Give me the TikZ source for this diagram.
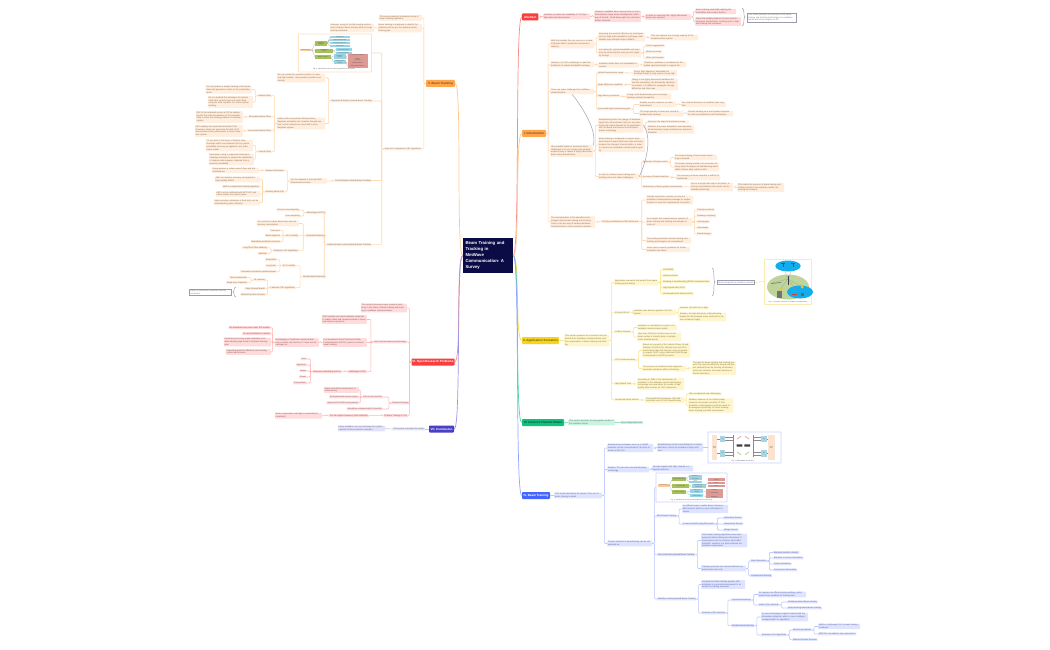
\documentclass[tikz,border=0pt]{standalone}
\usepackage{fontspec}
\setmainfont{Liberation Sans}
\usetikzlibrary{calc}
\definecolor{oF}{HTML}{FFEDDD}\definecolor{oL}{HTML}{FFD8AE}\definecolor{oT}{HTML}{8A6D52}
\definecolor{rF}{HTML}{FFDBDB}\definecolor{rL}{HTML}{FFB4B4}\definecolor{rT}{HTML}{8E5656}
\definecolor{yF}{HTML}{FFF5CC}\definecolor{yL}{HTML}{FBE48C}\definecolor{yT}{HTML}{857642}
\definecolor{gF}{HTML}{CBF3E2}\definecolor{gL}{HTML}{8FE3C0}\definecolor{gT}{HTML}{458068}
\definecolor{bF}{HTML}{DEE3FF}\definecolor{bL}{HTML}{BBC6FF}\definecolor{bT}{HTML}{5A6598}
\definecolor{pF}{HTML}{E3E3F8}\definecolor{pL}{HTML}{C5C4EE}\definecolor{pT}{HTML}{656494}
\definecolor{anno}{HTML}{9B9BAE}
\definecolor{cRoot}{HTML}{0B0B45}\definecolor{cRed}{HTML}{F93E3E}\definecolor{cOr}{HTML}{FFA64D}\definecolor{cOrT}{HTML}{7A4A12}
\definecolor{cYe}{HTML}{F7D21E}\definecolor{cYeT}{HTML}{6B5A00}\definecolor{cGr}{HTML}{0CC27C}\definecolor{cGrT}{HTML}{064D33}
\definecolor{cBl}{HTML}{4565FF}\definecolor{cPu}{HTML}{4A3FC4}
\definecolor{mPeach}{HTML}{FBE3D0}\definecolor{mRF}{HTML}{A9D4E4}\definecolor{mOr}{HTML}{F9C9A0}\definecolor{mGreen}{HTML}{A5C25A}
\definecolor{mCyan}{HTML}{9AD3E3}\definecolor{mRed}{HTML}{DD9A94}\definecolor{cSky}{HTML}{10AEEF}\definecolor{cLand}{HTML}{BFD49A}
\definecolor{cSun}{HTML}{F7C31E}\definecolor{cBrick}{HTML}{C8403A}\definecolor{cPink}{HTML}{E3AFA8}\definecolor{cLeaf}{HTML}{BBD3A5}
\tikzset{
  mbox/.style={rectangle,rounded corners=.7pt,draw=none,inner xsep=.9pt,inner ysep=.5pt,align=left,font=\fontsize{2.1}{2.85}\selectfont},
  ob/.style={mbox,fill=oF,text=oT}, rb/.style={mbox,fill=rF,text=rT},
  yb/.style={mbox,fill=yF,text=yT}, gb/.style={mbox,fill=gF,text=gT},
  bb/.style={mbox,fill=bF,text=bT}, pb/.style={mbox,fill=pF,text=pT},
  mainbox/.style={rectangle,rounded corners=.8pt,inner sep=0pt,minimum height=7pt,font=\fontsize{3}{3.6}\selectfont\bfseries},
  oc/.style={draw=oL,line width=.55pt,rounded corners=1pt},
  rc/.style={draw=rL,line width=.55pt,rounded corners=1pt},
  yc/.style={draw=yL,line width=.55pt,rounded corners=1pt},
  gc/.style={draw=gL,line width=.55pt,rounded corners=1pt},
  bc/.style={draw=bL,line width=.55pt,rounded corners=1pt},
  pc/.style={draw=pL,line width=.55pt,rounded corners=1pt},
  annoline/.style={draw=anno,line width=.45pt},
  annobox/.style={rectangle,draw=anno,line width=.6pt,fill=white,inner xsep=1pt,inner ysep=.8pt,align=left,text=anno!80!black,font=\fontsize{2.1}{2.85}\selectfont},
  figframe/.style={draw=#1,line width=.8pt,fill=white,rounded corners=.5pt},
  minitxt/.style={inner sep=0pt,align=center,font=\fontsize{1.2}{1.4}\selectfont,text=black!75},
  caption/.style={inner sep=0pt,font=\fontsize{1.5}{1.8}\selectfont,text=black!70},
}
% right-growing node: left edge x, centre y, width
\newcommand{\nR}[6]{\node[#2,anchor=west,text width=#5pt-1.8pt] (#1) at (#3,#4) {#6};}
\newcommand{\sR}[5]{\node[#2,anchor=west] (#1) at (#3,#4) {#5};}
% left-growing node: right edge x, centre y, width
\newcommand{\nL}[6]{\node[#2,anchor=east,text width=#5pt-1.8pt] (#1) at (#3,#4) {#6};}
\newcommand{\sL}[5]{\node[#2,anchor=east] (#1) at (#3,#4) {#5};}
\newcommand{\cR}[3]{\foreach \kid in {#3} {\draw[#1] (#2.east) -- ++(2,0) |- (\kid.west);}}
\newcommand{\cL}[3]{\foreach \kid in {#3} {\draw[#1] (#2.west) -- ++(-2,0) |- (\kid.east);}}
\newcount\mk
\newcommand{\mini}[6]{\global\advance\mk by 1 \fill[#1] (#2,#3) rectangle (#4,#5); \node[minitxt] (mk\the\mk) at ($(#2,#3)!.5!(#4,#5)$) {#6};}
\begin{document}
\begin{tikzpicture}[x=1pt,y=-1pt]
\useasboundingbox (0,0) rectangle (1050,650);
\fill[white] (0,0) rectangle (1050,650);

% ---------- root and main branches
\node[rectangle,fill=cRoot,text=white,inner sep=0pt,minimum width=50pt,minimum height=35pt,text width=45pt,align=left,font=\fontsize{4.3}{6}\selectfont\bfseries] (root) at (488,255.5) {Beam Training and\\Tracking in\\MmWave\\Communication- A\\Survey};
\node[mainbox,fill=cRed,text=white,minimum width=16.5pt] (abs) at (530.2,17) {Abstract};
\node[mainbox,fill=cOr,text=cOrT,minimum width=24pt] (intro) at (534,133.5) {I. Introduction};
\node[mainbox,fill=cYe,text=cYeT,minimum width=37pt] (app) at (540.5,340.5) {II. Application Scenarios};
\node[mainbox,fill=cGr,text=cGrT,minimum width=42pt] (chan) at (543,422.5) {III. Incident Channel Model};
\node[mainbox,fill=cBl,text=white,minimum width=28pt] (bt) at (536,495.5) {IV. Beam Training};
\node[mainbox,fill=cOr,text=cOrT,minimum width=29pt] (track) at (440.5,83.5) {V. Beam Tracking};
\node[mainbox,fill=cRed,text=white,minimum width=43pt] (open) at (433,362) {VI. Open Research Problems};
\node[mainbox,fill=cPu,text=white,minimum width=25pt] (conc) at (441.5,429) {VII. Conclusion};
\foreach \m/\c in {abs/F98A8A,intro/FFC88F,app/F7DC55,chan/4FD6A3,bt/93A6FF}
  {\definecolor{tmpc}{HTML}{\c}\draw[tmpc,line width=.7pt] (root.east) .. controls +(7,0) and +(-7,0) .. (\m.west);}
\foreach \m/\c in {track/FFC88F,open/F98A8A,conc/9E98E4}
  {\definecolor{tmpc}{HTML}{\c}\draw[tmpc,line width=.7pt] (root.west) .. controls +(-7,0) and +(7,0) .. (\m.east);}

% ---------- Abstract
\nR{a1}{rb}{543}{16.5}{47}{mmWave provides the availability of 10 Gbps high data rate transmission.}
\nR{a2}{rb}{594}{16.5}{47}{However, mmWave have serious issue of short transmission range, beam misalignment, blockage of the link. Small beam path loss and intermittent channels.}
\nR{a3}{rb}{645}{17}{46}{In order to overcome this, highly directional beams are required.}
\nR{a4}{rb}{695}{11.5}{41}{Beam training essentially aligning the transmitter and receiver beams.}
\nR{a5}{rb}{695}{21.5}{46}{Given the mobility patterns of users and environment and dynamic, tracking cycle is high and training has overhead.}
\cR{rc}{abs}{a1}\cR{rc}{a1}{a2}\cR{rc}{a2}{a3}\cR{rc}{a3}{a4,a5}
\node[annobox,anchor=west,text width=47pt] (an1) at (747,17.5) {This article provides an overview of the beam training and tracking technologies on mmWave bands and future insights on 6G};
\coordinate (br1a) at (742,8);\coordinate (br1m) at (745,17);\coordinate (br1b) at (742,26);
\draw[annoline] (br1a) .. controls (745,8) and (743,17) .. (br1m) .. controls (743,17) and (745,26) .. (br1b);

% ---------- I. Introduction
\nR{i1}{ob}{550}{44}{44}{With the broaden the use, we are in a need of greater data to maximize transmission capacity.}
\nR{i2}{ob}{550}{64.5}{44}{However, it is still a challenge to meet the bottleneck of cellular bandwidth shortage.}
\nR{i3}{ob}{550}{91.5}{44}{There are some challenges for mmWave communication:}
\nR{i4}{ob}{550}{151}{43}{One possible option to overcome these challenges is to use a large-scale phased antenna array to realize a highly directional beam using beamforming.}
\nR{i5}{ob}{550}{222}{45}{The summarization of the beamform technologies about beam training and tracking. There is the mix way of dealing mmWave communication in future wireless networks.}
\cR{oc}{intro}{i1,i2,i3,i4,i5}
\nR{i11}{ob}{598}{37}{47}{Improving the spectral efficiency by techniques such as high-order modulation and large-scale Multiple-Input Multiple-Output (MIMO)}
\nR{i111}{ob}{650}{37.5}{48}{This can improve the carrying capacity of the communication system}
\nR{i12}{ob}{598}{53}{43}{Increasing the system bandwidth and spectrum by enhancing the area per-unit capacity through}
\sR{i121}{ob}{645}{46}{Carrier aggregation}
\sR{i122}{ob}{645}{52}{Multi-connection}
\sR{i123}{ob}{645}{58}{Other technologies}
\cR{oc}{i1}{i11,i12}\cR{oc}{i11}{i111}\cR{oc}{i12}{i121,i122,i123}
\nR{i21}{ob}{598}{65}{41}{mmWave bands have rich bandwidth resources}
\nR{i22}{ob}{643}{64.5}{43}{Therefore, mmWave is considered as the golden spectrum bands to support 6G.}
\cR{oc}{i2}{i21}\cR{oc}{i21}{i22}
\sR{i31}{ob}{597}{73}{Limited transmission range}
\nR{i311}{ob}{633}{73}{44}{Due to high frequency, attenuation of mmWave bands is very severe in very high}
\sR{i32}{ob}{597}{85}{Weak diffraction capability}
\nR{i321}{ob}{631}{84.5}{47}{Owing to the highly directional mmWave link and the sensitivity to be blocked by obstacles or humans, it is difficult to propagate through diffraction and other way.}
\sR{i33}{ob}{597}{96}{High latency overhead}
\nR{i331}{ob}{626}{96.5}{45}{A large scale beamforming can encourage training overhead complexity}
\sR{i34}{ob}{597}{109}{Associated high beamforming gain}
\nR{i341}{ob}{639}{104.5}{37}{Mobility and the variations of radio environment}
\nR{i3411}{ob}{681}{104.5}{45}{the channel directions of mmWave also vary fast}
\nR{i342}{ob}{639}{113.5}{44}{The large quantity of users are served simultaneously systems}
\nR{i3421}{ob}{687}{113.5}{46}{Causes tracking error and system response for real accomplishment and interference}
\cR{oc}{i3}{i31,i32,i33,i34}\cR{oc}{i31}{i311}\cR{oc}{i32}{i321}\cR{oc}{i33}{i331}\cR{oc}{i34}{i341,i342}\cR{oc}{i341}{i3411}\cR{oc}{i342}{i3421}
\nR{i41}{ob}{598}{125.5}{45}{Beamforming forms the energy of mmWave signal into narrow beams that can use directional high signal directed by the application with the beam and improve overall performance technology}
\nR{i411}{ob}{647}{122}{42}{Improves the signal transmission range}
\nR{i412}{ob}{647}{129.5}{47}{Reduces the power dissipation and improving all transmission range and improves spectrum utilization}
\nR{i42}{ob}{598}{145}{47}{Beam training is employed to acquire directional links for beam links from radio and maintenance the strongest channel paths, in order to connect an acceptable communication quality.}
\nR{i43}{ob}{598}{176.5}{41}{In order to achieve beam training and tracking, there are some challenges:}
\cR{oc}{i4}{i41,i42,i43}\cR{oc}{i41}{i411,i412}
\sR{i431}{ob}{642}{162}{Reduction of beam search}
\nR{i4311}{ob}{674}{157.5}{43}{The beam training of such beam search huge overhead}
\nR{i4312}{ob}{674}{167}{45}{The beam training results in an excessive latency when the degree of beamforming bandwidth of beam high mobile results}
\sR{i432}{ob}{642}{177}{Accuracy of beam selection}
\nR{i4321}{ob}{676}{177.5}{44}{The accuracy of beam selection is difficult of maintained}
\sR{i433}{ob}{642}{187}{Robustness of beam quality enhancement}
\nR{i4331}{ob}{690}{187}{43}{Due to the high data rate in the future, in strong communication link need to be established effectively}
\nR{i4332}{ob}{737}{187.5}{47}{This makes the process of beam training and tracking crucial in the mmWave mobile networking and industry}
\cR{oc}{i43}{i431,i432,i433}\cR{oc}{i431}{i4311,i4312}\cR{oc}{i432}{i4321}\cR{oc}{i433}{i4331}\cR{oc}{i4331}{i4332}
\sR{i51}{ob}{601}{221.5}{The key contributions of this article are:}
\nR{i511}{ob}{646}{200}{47}{Provide systematic overview on how the mmWave communications leverage its unique features to meet the requirements of services.}
\nR{i512}{ob}{646}{222}{46}{An in-depth and comprehensive analysis of beam training and tracking technologies in terms of:}
\nR{i513}{ob}{646}{240.5}{45}{The existing methods of beam training and tracking technologies are summarized.}
\nR{i514}{ob}{646}{249.5}{44}{Some open research problems for further evaluation are listed.}
\sR{i5121}{ob}{696}{210}{Training overhead}
\sR{i5122}{ob}{696}{216}{Tracking complexity}
\sR{i5123}{ob}{696}{222}{Training gain}
\sR{i5124}{ob}{696}{228}{Advantages}
\sR{i5125}{ob}{696}{234}{Disadvantages}
\cR{oc}{i5}{i51}\cR{oc}{i51}{i511,i512,i513,i514}\cR{oc}{i512}{i5121,i5122,i5123,i5124,i5125}
\draw[annoline] (i3.south) .. controls +(8,10) and +(4,-16) .. (i4.north east);
\draw[annoline] (i41.east) .. controls +(7,8) and +(10,-22) .. (i43.east);

% ---------- II. Application Scenarios
\nR{p0}{yb}{564}{340.5}{45}{This section presents the scenarios that can benefit from mmWave communications and the requirements of beam training and tracking.}
\draw[yc] (app.east) -- (p0.west);
\nR{p1}{yb}{614}{282.5}{44}{Application scenarios that benefit from beam tracking and tracking:}
\sR{p2}{yb}{614}{312.7}{5G and URLLC}
\sR{p3}{yb}{614}{332}{Cellular Network}
\sR{p4}{yb}{614}{360}{V2X Communications}
\sR{p5}{yb}{614}{383.7}{High Speed Train}
\sR{p6}{yb}{614}{399.7}{Unmanned Aerial Vehicle}
\cR{yc}{p0}{p1,p2,p3,p4,p5,p6}
\sR{p11}{yb}{662}{269.7}{VR/AR/MR}
\sR{p12}{yb}{662}{275.7}{Vehicle network}
\sR{p13}{yb}{662}{281.7}{Relaying or beamforming (RFMS) communication}
\sR{p14}{yb}{662}{287.7}{High-Speed train (HST)}
\sR{p15}{yb}{662}{293.7}{Unmanned Aerial Vehicle (UAV)}
\cR{yc}{p1}{p11,p12,p13,p14,p15}
\coordinate (br2a) at (712,268);\coordinate (br2m) at (715,282);\coordinate (br2b) at (712,296);
\draw[annoline] (br2a) .. controls (715,268) and (713,282) .. (br2m) .. controls (713,282) and (715,296) .. (br2b);
\node[annobox,anchor=west] (an2) at (717,282.5) {Beam integration in mmWave network};
\node[inner sep=0pt,minimum width=47pt,minimum height=45pt,draw=yL!70,line width=.8pt,fill=white] (fig1) at (788,281.5) {};
\draw[yc] (an2.east) -- (fig1.west);
\fill[cSky] (788,266) ellipse [x radius=12.7pt,y radius=5.5pt];
\fill[cLand] (788,287) ellipse [x radius=21pt,y radius=12.5pt];
\fill[cSky] (800,292) ellipse [x radius=13pt,y radius=6.5pt];
\draw[black!70,line width=.25pt] (783,263)--(783,267) (793,263)--(793,267) (781,263)--(785,263) (791,263)--(795,263);
\draw[black!40,line width=.15pt] (783,267)--(788,279) (793,267)--(788,279) (788,279)--(772,283) (788,279)--(779,291) (788,279)--(802,287) (788,279)--(797,292);
\draw[black!75,line width=.5pt] (788,276)--(788,285);
\draw[black!60,line width=.5pt] (771,283.5)--(781,282.5);
\fill[black!55] (777,291) rectangle (782,298);
\fill[cSun] (781,289) circle (1.5pt) (802,287) circle (1.5pt);
\fill[cBrick] (792,294) rectangle (797,295);
\fill[black!60] (801,293) rectangle (804,296);
\node[caption] (fig1c) at (788,302) {Fig. 1. The typical scenarios of mmWave communications.};
\nR{p21}{yb}{633}{312.5}{43}{mmWave was directly applied in 5G NR system}
\sR{p211}{yb}{679}{308}{However, the path loss is high}
\nR{p212}{yb}{679}{317}{47}{Besides, the high directivity of beamforming makes the link between users small-cell or device extremely fragile}
\cR{yc}{p2}{p21}\cR{yc}{p21}{p211,p212}
\nR{p31}{yb}{637}{327.5}{40}{mmWave is committed to access to acceptable communication quality}
\nR{p32}{yb}{637}{337}{44}{Take from DFW (for 30GHz) seen at the beam center to transmit data to multiple users simultaneously.}
\cR{yc}{p3}{p31,p32}
\nR{p41}{yb}{642}{350.5}{48}{Based on research of the Vehicle Phase 16 and Release 16 (NR-V2X), Vehicles can use 5G-V needs faster than the General, some proposed to support 3GPP using Dedicated Short-Range Communication (DSRC) protocol}
\nR{p42}{yb}{642}{368.5}{44}{The process of mmWave beam alignment procedure enhances effect of tracking}
\nR{p421}{yb}{692}{368}{44}{Through the beam training and tracking process, the spectral efficiency among vehicles are obtained from the sensing information, which can enhance the beam steering on the link directions}
\cR{yc}{p4}{p41,p42}\cR{yc}{p42}{p421}
\nR{p51}{yb}{637}{384}{47}{According to Table 2 the transmission of mmWave at the millimeter band beamforming technology are used about the needs of high quality data services on HST commuters.}
\cR{yc}{p5}{p51}
\nR{p61}{yb}{645}{400}{39}{The beamforming between UAV and terrestrial users in UAV beamforming}
\sR{p611}{yb}{688}{394}{Ultra complicated and challenging}
\nR{p612}{yb}{688}{405.5}{45}{Besides, because of the limited power resource, the power constraint of UAV mmWave communication systems needs to be designed specifically for beam training, beam tracking and data transmission.}
\cR{yc}{p6}{p61}\cR{yc}{p61}{p611,p612}

% ---------- III. Incident Channel Model
\nR{c1}{gb}{568}{422.5}{47}{This section provides the propagation model of the mmWave signal.}
\sR{c2}{gb}{620}{422.5}{Line of dependent loss}
\draw[gc] (chan.east) -- (c1.west);\draw[gc] (c1.east) -- (c2.west);

% ---------- IV. Beam Training
\nR{b0}{bb}{554}{495.5}{48}{This section describes the whole of the use of beam training in detail.}
\draw[bc] (bt.east) -- (b0.west);
\nR{b1}{bb}{607}{448}{46}{Beamforming techniques such as in MIMO networks can be concentrated in the form of beams at the CSI}
\nR{b2}{bb}{607}{469.5}{42}{Besides, CSI can also use beamforming technology}
\nR{b3}{bb}{607}{543.5}{45}{Current methods of beamforming can be categorized as:}
\cR{bc}{b0}{b1,b2,b3}
\nR{b11}{bb}{657}{447.5}{46}{Beamforming can be concentrated in a certain direction to solve the problem of large path loss.}
\nR{b21}{bb}{652}{468.5}{41}{Receive signals with high strength in a specific direction}
\cR{bc}{b1}{b11}\cR{bc}{b2}{b21}
\node[figframe=bL!75,inner sep=0pt,minimum width=73pt,minimum height=31pt] (fig2) at (744.5,447.5) {};
\draw[bc] (b11.east) -- (fig2.west);
\begin{scope}[shift={(515,430)},x=.33333pt,y=-.33333pt]
\mini{mPeach}{590}{16}{607}{90}{Base\\band}
\mini{mPeach}{759}{16}{779}{90}{Base\\band}
\mini{mRF}{615}{18}{630}{36}{RF}
\mini{mRF}{615}{60}{630}{80}{RF}
\mini{mRF}{739}{18}{755}{36}{RF}
\mini{mRF}{739}{60}{755}{80}{RF}
\fill[black!75] (665,43) rectangle (682,50) (688,43) rectangle (705,50);
\draw[cPink,line width=.9pt] (666,27)--(678,19) (690,19)--(702,27);
\draw[cLeaf,line width=.9pt] (666,66)--(678,74) (690,74)--(702,66);
\draw[black!45,line width=.15pt] (607,27)--(615,27) (607,70)--(615,70) (630,22)--(655,22) (630,30)--(655,30) (630,65)--(655,65) (630,75)--(655,75) (715,22)--(739,22) (715,30)--(739,30) (715,65)--(739,65) (715,75)--(739,75) (755,27)--(759,27) (755,70)--(759,70) (655,15)--(655,80) (715,15)--(715,80);
\node[caption] (fig2c) at (683,92) {Fig. 2. Hybrid MIMO architecture};
\end{scope}
% blind etc.
\node[figframe=bL!75,inner sep=0pt,minimum width=71pt,minimum height=29pt] (fig4) at (691.5,487.5) {};
\begin{scope}[shift={(515,430)},x=.33333pt,y=-.33333pt]
\mini{mOr}{430}{162}{462}{170}{Beam Training}
\mini{mGreen}{472}{141}{514}{153}{Blind Beam Training}
\mini{mGreen}{472}{162}{522}{174}{Prior Information}
\mini{mGreen}{472}{181}{514}{191}{Machine Learning}
\mini{mCyan}{522}{135}{560}{143}{Exhaustive}
\mini{mCyan}{522}{145}{560}{151}{Hierarchical}
\mini{mCyan}{522}{152}{560}{158}{Ortega}
\mini{mCyan}{530}{161}{572}{168}{Side information}
\mini{mCyan}{530}{169}{572}{175}{Compressed}
\mini{mCyan}{526}{177}{565}{190}{Supervised\\Learning}
\mini{mCyan}{526}{193}{565}{201}{Reinforcement}
\mini{mRed}{579}{144}{629}{154}{Location}
\mini{mRed}{579}{155}{629}{163}{Sensor}
\mini{mRed}{579}{164}{629}{172}{Radar}
\mini{mRed}{574}{177}{623}{186}{Database}
\mini{mRed}{574}{187}{623}{195}{Deep learning}
\mini{mRed}{574}{196}{623}{205}{MAB / MDP}
\draw[black!40,line width=.15pt] (462,166)--(472,147) (462,166)--(472,168) (462,166)--(472,186) (514,147)--(522,139) (514,147)--(522,155) (522,168)--(530,165) (522,168)--(530,172) (514,186)--(526,183) (514,186)--(526,197) (572,165)--(579,158) (565,183)--(574,187) (565,197)--(574,200);
\node[caption] (fig4c) at (530,211) {Fig. 4. Classification of beam training algorithms in this survey};
\end{scope}
\sR{b31}{bb}{656}{516}{Blind Beam Training}
\nR{b311}{bb}{682}{509}{46}{An efficient way to realize beam training is blind search, where no prior information is known}
\sR{b312}{bb}{682}{524}{It uses methods using full search:}
\sR{b3121}{bb}{723}{518}{Exhaustive Search}
\sR{b3122}{bb}{723}{524}{Hierarchical Search}
\sR{b3123}{bb}{723}{530}{Ortega Search}
\sR{b32}{bb}{657}{554.7}{Prior Information Based Beam Training}
\nR{b321}{bb}{701}{540.5}{46}{Such beam training algorithms have been proposed which utilize prior information of environment such as location, data traffic, AoA/AoD, statistics to a priori estimate the mmWave environment}
\nR{b322}{bb}{701}{568.5}{45}{Training overhead can reduced without any performance test only}
\sR{b3221}{bb}{750}{561}{Side information}
\sR{b3222}{bb}{750}{575.7}{Compressed Sensing}
\sR{b32211}{bb}{773}{552.5}{Behavior position, velocity}
\sR{b32212}{bb}{773}{558}{Behavior or sensor information}
\sR{b32213}{bb}{773}{564}{Radar information}
\sR{b32214}{bb}{773}{570}{Social tweet information}
\sR{b33}{bb}{657}{599}{Machine Learning Based Beam Training}
\nR{b331}{bb}{701}{584.5}{44}{Knowing the beam training process with mmWave in a practical environment to alleviate the training overhead}
\sR{b332}{bb}{701}{613}{Features of ML methods}
\sR{b3321}{bb}{731}{600}{Supervised learning}
\nR{b33211}{bb}{758}{594.5}{48}{SL requires an offline learning settings, which needs more numbers for training data}
\sR{b33212}{bb}{758}{605}{Kinds of SL methods}
\sR{b332121}{bb}{787}{602}{Database-based beam training}
\sR{b332122}{bb}{787}{608}{Deep learning-based beam training}
\sR{b3322}{bb}{731}{625.7}{Reinforcement learning}
\nR{b33221}{bb}{761}{617}{47}{Its core technology is agents learned with the information obtained, which is more intelligent compared with SL algorithms}
\sR{b33222}{bb}{761}{635}{Features of RL algorithms}
\sR{b332221}{bb}{792}{630}{Multi-Armed Bandit}
\nR{b3322211}{bb}{818}{626.5}{42}{MAB is a lightweight RL to lower training overhead}
\sR{b3322212}{bb}{818}{634}{MDP-RL can adapt to any environment}
\sR{b332222}{bb}{792}{639.7}{Markov Decision Process}
\cR{bc}{b3}{fig4,b31,b32,b33}
\cR{bc}{b31}{b311,b312}\cR{bc}{b312}{b3121,b3122,b3123}
\cR{bc}{b32}{b321,b322}\cR{bc}{b322}{b3221,b3222}\cR{bc}{b3221}{b32211,b32212,b32213,b32214}
\cR{bc}{b33}{b331,b332}\cR{bc}{b332}{b3321,b3322}\cR{bc}{b3321}{b33211,b33212}\cR{bc}{b33212}{b332121,b332122}
\cR{bc}{b3322}{b33221,b33222}\cR{bc}{b33222}{b332221,b332222}\cR{bc}{b332221}{b3322211,b3322212}

% ---------- V. Beam Tracking
\nL{t1}{ob}{422}{18}{43}{This survey presents a detailed survey of beam tracking algorithms.}
\nL{t2}{ob}{422}{28}{44}{Beam tracking is employed to identify the optimum path as per the optimum beamforming gain.}
\nL{t21}{ob}{374}{28}{44}{However, owing to the fast-varying environment, frequent beam training will incur huge training overhead.}
\sL{t3}{ob}{422}{149}{Here are 3 categories of BT algorithms}
\cL{oc}{track}{t1,t2,t3}\cL{oc}{t2}{t21}
\node[figframe=oL!75,inner sep=0pt,minimum width=73pt,minimum height=38pt] (fig5) at (335,53) {};
\begin{scope}[shift={(180,0)},x=.33333pt,y=-.33333pt]
\mini{mOr}{360}{147}{396}{154}{Beam Tracking}
\mini{mGreen}{405}{123}{441}{138}{Bayesian\\Estimation}
\mini{mGreen}{405}{146}{460}{158}{Fast Estimation\\Based}
\mini{mGreen}{405}{166}{452}{177}{Machine Learning}
\mini{mCyan}{450}{108}{510}{115}{Kalman Filter}
\mini{mCyan}{450}{116}{510}{123}{Extended Kalman Filter}
\mini{mCyan}{450}{125}{510}{132}{Unscented Kalman Filter}
\mini{mCyan}{450}{134}{510}{141}{Particle Filter}
\mini{mCyan}{467}{145}{515}{153}{Passive Information}
\mini{mCyan}{467}{155}{515}{162}{Auxiliary Beam Pair}
\mini{mCyan}{461}{163}{497}{177}{Supervised\\Learning}
\mini{mCyan}{461}{180}{497}{192}{Reinforcement\\Learning}
\mini{mRed}{503}{162}{563}{170}{Long Short-Term Memory}
\mini{mRed}{503}{171}{563}{186}{Attention\\Q-learning}
\mini{mRed}{503}{187}{563}{194}{Multi-Armed Bandit}
\mini{mRed}{503}{195}{563}{203}{Markov Decision Process}
\draw[black!40,line width=.15pt] (396,150)--(405,130) (396,150)--(405,152) (396,150)--(405,171) (441,130)--(450,112) (441,130)--(450,120) (441,130)--(450,128) (441,130)--(450,137) (460,152)--(467,149) (460,152)--(467,158) (452,171)--(461,170) (452,171)--(461,186) (497,170)--(503,166) (497,170)--(503,178) (497,186)--(503,190) (497,186)--(503,199);
\node[caption] (fig5c) at (462,208) {Fig. 5. Classification of beam tracking algorithms in this survey};
\end{scope}
\sL{t4}{ob}{373}{101}{Bayesian Estimation Based Beam Tracking}
\sL{t5}{ob}{372}{180.5}{Fast Estimation Based Beam Tracking}
\sL{t6}{ob}{372}{244.7}{Reinforcement Learning Based Beam Tracking}
\cL{oc}{t3}{fig5,t4,t5,t6}
\nL{t41}{ob}{325}{78}{48}{We can predict the moment position of users and high mobility. Uses previous position and velocity.}
\nL{t42}{ob}{325}{123.5}{48}{Kalman filter and particle filtering theory, Bayesian estimation are common fine-grid system, and its variants are used well in most Bayesian system.}
\cL{oc}{t4}{t41,t42}
\sL{t421}{ob}{272}{95.7}{Kalman Filter}
\sL{t422}{ob}{272}{116.7}{Extended Kalman Filter}
\sL{t423}{ob}{272}{130.7}{Unscented Kalman Filter}
\sL{t424}{ob}{272}{151.7}{Particle Filter}
\cL{oc}{t42}{t421,t422,t423,t424}
\nL{k1}{ob}{251.7}{89.5}{46}{KF can produce a simple tracking of the beam state and generates results on the positioning result.}
\nL{k2}{ob}{253}{102}{45}{EF is a method that estimates the system state from system input and output data using the state equation of a linear system tracking.}
\nL{k3}{ob}{243}{117}{47}{EKF is the extended version of KF by employing the first-order linearization of the nonlinear state to solve the tracking problem of nonlinear system.}
\nL{k4}{ob}{243}{131}{48}{UKF employs the unscented transform from Gaussian, which can overcome the limit of KF, and provides better performance in linear Gaussian system.}
\nL{k5}{ob}{253}{145.5}{47}{PF can deal in the linear of Particle state-Gaussian which can represent the by system probability and may be applied to any state-space model.}
\nL{k6}{ob}{254}{159.5}{45}{Data-driven using a sequential importance sampling technique to explore the distribution of random state samples, obtained from a posterior probability.}
\cL{oc}{t421}{k1,k2}\cL{oc}{t422}{k3}\cL{oc}{t423}{k4}\cL{oc}{t424}{k5,k6}
\nL{t51}{ob}{327}{181}{37}{Can be adapted to the high-SNR dimensional scenario.}
\sL{t511}{ob}{285}{170.7}{Passive Information}
\sL{t512}{ob}{285}{191.7}{Auxiliary Beam Pair}
\nL{f1}{ob}{259}{170.5}{47}{Using passive to reduce search time and link maintenance.}
\nL{f2}{ob}{260}{179.5}{45}{ABP can improve accuracy and applied in high mobility MIMO}
\sL{f3}{ob}{260}{186.7}{ABP is a simple fast tracking algorithm}
\nL{f4}{ob}{260}{194}{44}{ABP can be combined with EKF UKF and fusion reduce the search space}
\nL{f5}{ob}{260}{202.5}{46}{High resolution estimation of AoA AoD can be maintained by pairs of beams}
\cL{oc}{t5}{t51}\cL{oc}{t51}{t511,t512}\cL{oc}{t511}{f1}\cL{oc}{t512}{f2,f3,f4,f5}
\sL{t61}{ob}{326}{212.7}{Advantages of RTS}
\sL{t62}{ob}{326}{235.7}{Supervised learning}
\sL{t63}{ob}{326}{276.7}{Reinforcement learning}
\cL{oc}{t6}{t61,t62,t63}
\sL{t611}{ob}{300}{210}{Prevent overcomputing}
\sL{t612}{ob}{301}{216}{Low complexity}
\cL{oc}{t61}{t611,t612}
\nL{t621}{ob}{299}{223.5}{42}{SL is used to reduce beam time and use memory consumption.}
\sL{t622}{ob}{299}{235.7}{SL is usually}
\sL{t623}{ob}{299}{250.7}{Features of SL algorithms}
\cL{oc}{t62}{t621,t622,t623}
\sL{s1}{ob}{281}{230.5}{Few tours}
\sL{s2}{ob}{281}{235.7}{Beam explored}
\sL{s3}{ob}{281}{241.5}{Beamform prediction accuracy}
\sL{s4}{ob}{268}{247.7}{Long Short-Term Memory}
\sL{s5}{ob}{268}{253.5}{Attention}
\cL{oc}{t622}{s1,s2,s3}\cL{oc}{t623}{s4,s5}
\sL{t631}{ob}{296}{265.7}{RL is usually}
\sL{t632}{ob}{296}{287.7}{Features of RL algorithms}
\cL{oc}{t63}{t631,t632}
\sL{r1}{ob}{277}{259.7}{Sequential}
\sL{r2}{ob}{277}{265.7}{Long-term}
\sL{r3}{ob}{277}{271.7}{Cumulative interaction-related reward}
\cL{oc}{t631}{r1,r2,r3}
\sL{r4}{ob}{266}{280}{RL learning}
\sL{r5}{ob}{266}{288.5}{Deep Reward Bandit}
\sL{r6}{ob}{266}{294.5}{Markov Decision Process}
\cL{oc}{t632}{r4,r5,r6}
\sL{r41}{ob}{248}{277.5}{Direct reward rate}
\sL{r42}{ob}{248}{282.7}{Single user scenarios}
\cL{oc}{r4}{r41,r42}
\node[annobox,anchor=east,text width=40pt] (an3) at (232,292) {Deep Q-model uses optimize training memories.};
\coordinate (br3a) at (236,287);\coordinate (br3m) at (233,292);\coordinate (br3b) at (236,297);
\draw[annoline] (br3a) .. controls (233,287) and (235,292) .. (br3m) .. controls (235,292) and (233,297) .. (br3b);

% ---------- VI. Open Research Problems
\nL{o1}{rb}{407}{308}{46}{This section discusses open research problems in the future of beam training and tracking in mmWave communications.}
\sL{o2}{rb}{407}{342}{Joint Communication and Sensing}
\sL{o3}{rb}{409}{403}{Channel Sensing}
\sL{o4}{rb}{408}{415.7}{Problem Training at THz}
\cL{rc}{open}{o1,o2,o3,o4}
\nL{o21}{rb}{367}{319.5}{45}{ISAC system can share hardware resources to reduce radar and communications in beam and enhance spectrum.}
\nL{o22}{rb}{367}{342.5}{44}{It is proposed in Dual Functional Radar-Communication (DFRC) system to achieve beam training.}
\sL{o23}{rb}{367}{371.7}{Challenges of JCS}
\cL{rc}{o2}{o21,o22,o23}
\nL{o221}{rb}{319}{342.5}{44}{Overlapping of traditional communication only on radar only functions. These are advantages as:}
\cL{rc}{o22}{o221}
\sL{o2211}{rb}{271}{327.7}{We dedicated low-power radar, A/D module}
\sL{o2212}{rb}{271}{333.7}{No open-feedback is needed}
\nL{o2213}{rb}{271}{342}{47}{Reducing processing angle estimation error while keeping high Radar-Controlled Sensing gain}
\nL{o2214}{rb}{271}{352}{45}{Improving spectrum efficiency and sensing system performance}
\cL{rc}{o221}{o2211,o2212,o2213,o2214}
\sL{o231}{rb}{342}{371.7}{Resource scheduling such as}
\cL{rc}{o23}{o231}
\sL{o2311}{rb}{307}{359}{Cost}
\sL{o2312}{rb}{307}{365}{Spectrum}
\sL{o2313}{rb}{307}{371}{Beam}
\sL{o2314}{rb}{307}{377}{Power}
\sL{o2315}{rb}{307}{383}{Computation}
\cL{rc}{o231}{o2311,o2312,o2313,o2314,o2315}
\sL{o31}{rb}{383}{397}{RIS can be used for}
\sL{o32}{rb}{383}{409}{Should be combined with 5G and 6G}
\cL{rc}{o3}{o31,o32}
\nL{o311}{rb}{359}{390}{35}{Indoor and urban environment simultaneously}
\sL{o312}{rb}{359}{397}{Extended beam search space}
\sL{o313}{rb}{359}{403}{Beyond LOS NLOS environment}
\cL{rc}{o31}{o311,o312,o313}
\sL{o41}{rb}{369}{415.7}{THz has higher frequency than millimeter}
\nL{o411}{rb}{322}{415.7}{47}{Much components and higher computational complexity.}
\cL{rc}{o4}{o41}\cL{rc}{o41}{o411}

% ---------- VII. Conclusion
\sL{v1}{pb}{425}{429}{This section concludes the whole}
\nL{v2}{pb}{385}{428.5}{47}{Using mmWave, we can exchange the system capacity of future wireless networks.}
\draw[pc] (conc.west) -- (v1.east);\draw[pc] (v1.west) -- (v2.east);
\end{tikzpicture}
\end{document}
